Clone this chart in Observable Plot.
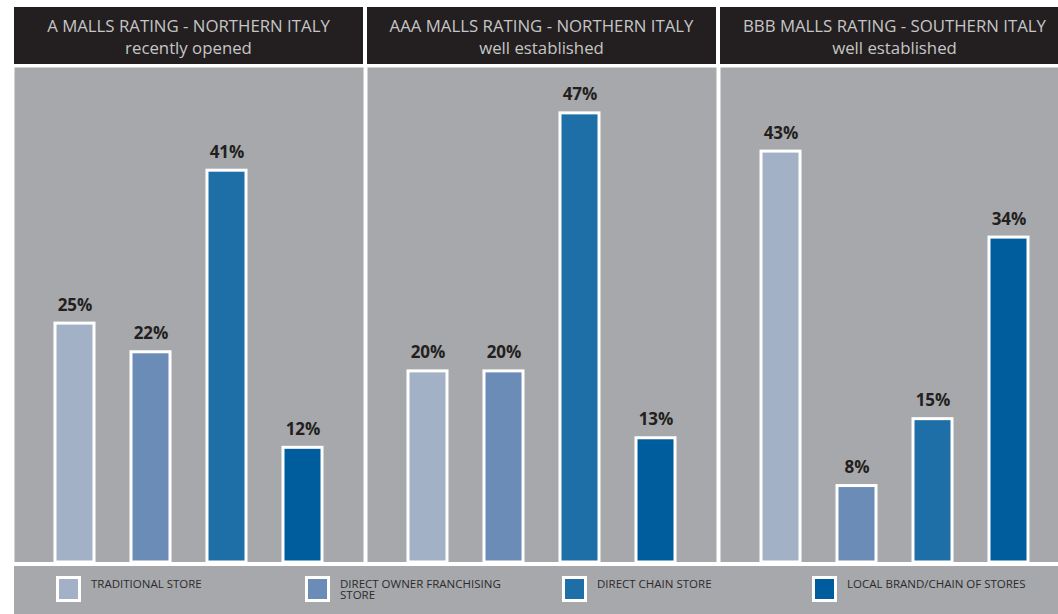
<!DOCTYPE html>
<html>
<head>
<meta charset="utf-8">
<script src="https://cdn.jsdelivr.net/npm/d3@7"></script>
<script src="https://cdn.jsdelivr.net/npm/@observablehq/plot@0.6"></script>
<style>
  html, body { margin: 0; padding: 0; background: #ffffff; overflow: hidden; }
  #wrap { position: relative; width: 1058px; height: 614px; overflow: hidden; background: #ffffff; }
  .hdr { position: absolute; top: 7px; height: 57px; background: #231f20; color: #c6c6c6;
         font-family: "Open Sans", sans-serif; font-size: 16.8px; line-height: 22px; text-align: center;
         box-sizing: border-box; padding-top: 8px; white-space: nowrap; }
  #plot { position: absolute; top: 67px; left: 0; max-width: none !important; }
  #legend { position: absolute; top: 566px; left: 14px; width: 1060px; height: 48px; background: #a7a8ab; }
  .item { position: absolute; top: 10px; }
  .sw { position: absolute; left: 0; top: 0; width: 19px; height: 20px; border: 3px solid #ffffff; }
  .lab { position: absolute; left: 35px; top: 3px; width: 200px; font-family: "Open Sans", sans-serif;
         font-size: 11.5px; line-height: 10.5px; color: #2b2b2b; }
</style>
</head>
<body>
<div id="wrap"></div>
<script>
// ---- data ----
const panels = ["A MALLS RATING - NORTHERN ITALY", "AAA MALLS RATING - NORTHERN ITALY", "BBB MALLS RATING - SOUTHERN ITALY"];
const subtitles = ["recently opened", "well established", "well established"];
const categories = ["TRADITIONAL STORE", "DIRECT OWNER FRANCHISING STORE", "DIRECT CHAIN STORE", "LOCAL BRAND/CHAIN OF STORES"];
const valuesA = [25, 22, 41, 12];
const valuesAAA = [20, 20, 47, 13];
const valuesBBB = [43, 8, 15, 34];

// ---- styles ----
const colors = ["#a2b1c5", "#6a8cb7", "#1e6ea7", "#005d9d"];
const legendOffsets = [42, 291, 548, 798];
const legendLabelWidths = [200, 175, 200, 220];

const series = [valuesA, valuesAAA, valuesBBB];
const data = [];
panels.forEach((p, i) => categories.forEach((c, j) => data.push({panel: p, cat: c, value: series[i][j]})));

const chart = Plot.plot({
  width: 1070,
  height: 495,
  marginLeft: 14, marginRight: 0, marginTop: 0, marginBottom: 0,
  style: {background: "#ffffff", maxWidth: "none"},
  fx: {domain: panels, paddingInner: 0.0113, paddingOuter: 0, axis: null, label: null},
  x: {domain: categories, paddingInner: 0.49, paddingOuter: 0.541, axis: null, label: null},
  y: {domain: [0, 51.8], axis: null, label: null},
  color: {domain: categories, range: colors},
  marks: [
    Plot.frame({fill: "#a7a8ab", stroke: null}),
    Plot.barY(data, {fx: "panel", x: "cat", y: "value", fill: "cat", stroke: "#ffffff", strokeWidth: 3}),
    Plot.text(data, {fx: "panel", x: "cat", y: "value", text: d => d.value + "%", dy: -13, lineAnchor: "bottom",
      fontFamily: "Open Sans", fontWeight: "bold", fontSize: 17, fill: "#231f20"})
  ]
});

const wrap = document.getElementById("wrap");
const fx = chart.scale("fx");
panels.forEach((p, i) => {
  const h = document.createElement("div");
  h.className = "hdr";
  h.style.left = fx.apply(p) + "px";
  h.style.width = fx.bandwidth + "px";
  const l1 = document.createElement("div"); l1.textContent = p;
  const l2 = document.createElement("div"); l2.textContent = subtitles[i];
  h.appendChild(l1); h.appendChild(l2);
  wrap.appendChild(h);
});
chart.id = "plot";
chart.style.maxWidth = "none";
wrap.appendChild(chart);

const legend = document.createElement("div");
legend.id = "legend";
categories.forEach((c, i) => {
  const it = document.createElement("div");
  it.className = "item";
  it.style.left = legendOffsets[i] + "px";
  const sw = document.createElement("div"); sw.className = "sw"; sw.style.background = colors[i];
  const lab = document.createElement("div"); lab.className = "lab"; lab.textContent = c;
  lab.style.width = legendLabelWidths[i] + "px";
  it.appendChild(sw); it.appendChild(lab);
  legend.appendChild(it);
});
wrap.appendChild(legend);
</script>
</body>
</html>
